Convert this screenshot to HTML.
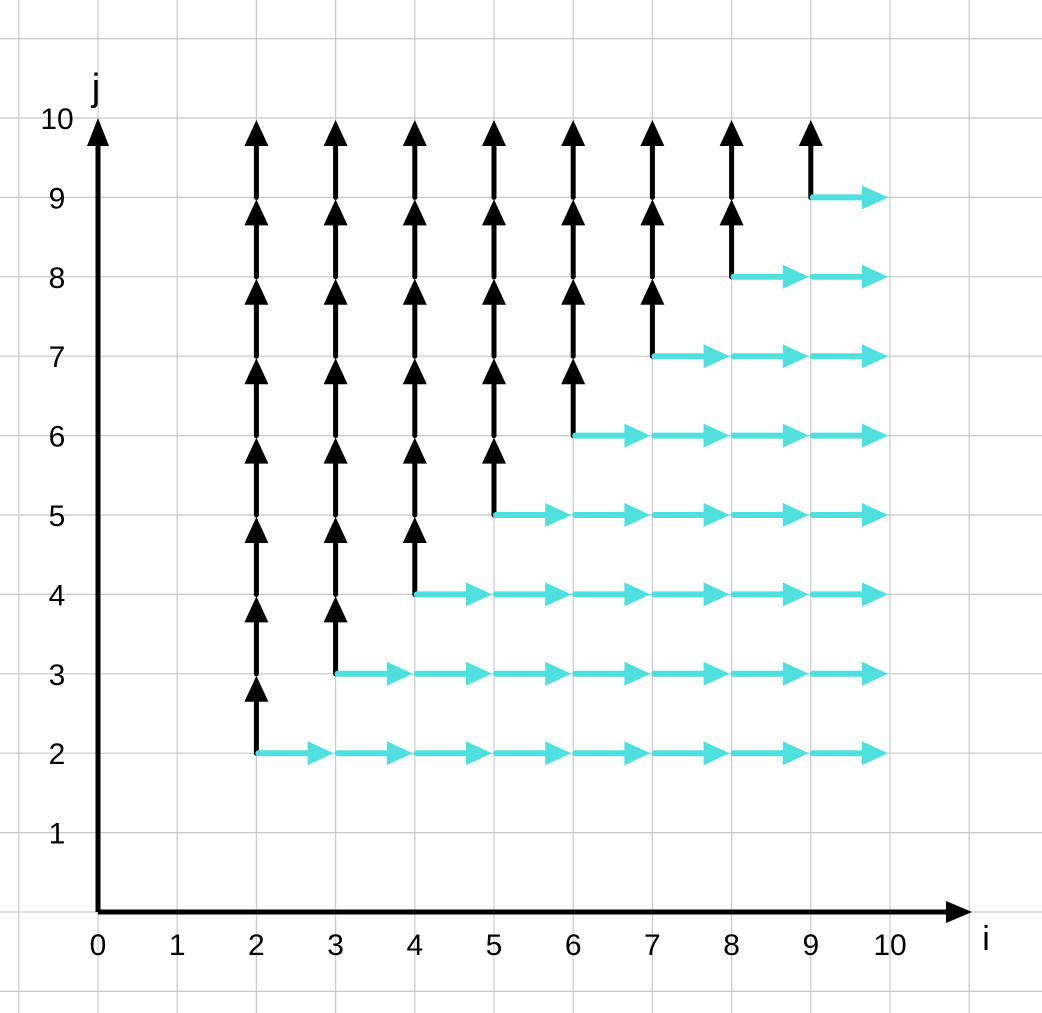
<!DOCTYPE html>
<html><head><meta charset="utf-8"><style>
html,body{margin:0;padding:0;background:#fff;}
svg{display:block;}
text{font-family:"Liberation Sans",sans-serif;}
</style></head><body>
<svg id="chart" width="1042" height="1013" viewBox="0 0 1042 1013">
<g id="grid"></g>
<g id="arrows"></g>
<g id="axes"></g>
</svg>
<script>
// Data
const xTicks = ["0","1","2","3","4","5","6","7","8","9","10"];
const yTicks = ["1","2","3","4","5","6","7","8","9","10"];
const columns = [2,3,4,5,6,7,8,9];      // black arrow columns
const colStart = [2,3,4,5,6,7,8,9];     // black arrows begin at j = start, go up to 10
const rows = [2,3,4,5,6,7,8,9];         // cyan arrow rows
const rowStart = [2,3,4,5,6,7,8,9];     // cyan arrows begin at i = start, go right to 10
const maxVal = 10;

const X0 = 98, Y0 = 912, UX = 79.2, UY = 79.4;
const sx = v => X0 + v * UX;
const sy = v => Y0 - v * UY;
const NS = "http://www.w3.org/2000/svg";
function mk(tag, attrs, parent){ const e=document.createElementNS(NS,tag); for(const k in attrs) e.setAttribute(k,attrs[k]); parent.appendChild(e); return e; }

const grid = document.getElementById('grid');
for(let k=-1;k<=12;k++){
  const l = mk('line',{x1:sx(k),x2:sx(k),y1:0,y2:1013,stroke:'#c8c8c8','stroke-width':1.2},grid);
  
  
}
for(let k=-1;k<=11;k++){
  const l = mk('line',{x1:0,x2:1042,y1:sy(k),y2:sy(k),stroke:'#c8c8c8','stroke-width':1.2},grid);
  
  
}

const arrows = document.getElementById('arrows');
function arrow(x1,y1,x2,y2,color,w,name){
  const g = mk('g',{},arrows);
  
  
  const dx=x2-x1, dy=y2-y1, L=Math.hypot(dx,dy), ux=dx/L, uy=dy/L;
  const hl=26, hw=12;
  const bx=x2-ux*hl, by=y2-uy*hl;
  mk('line',{x1:x1,y1:y1,x2:bx+ux*2,y2:by+uy*2,stroke:color,'stroke-width':w,'stroke-linecap':'round'},g);
  mk('polygon',{points:`${x2},${y2} ${bx-uy*hw},${by+ux*hw} ${bx+uy*hw},${by-ux*hw}`,fill:color},g);
}
columns.forEach((c,idx)=>{
  for(let j=colStart[idx]; j<maxVal; j++){
    arrow(sx(c), sy(j), sx(c), sy(j+1)+2, '#000', 5, 'up-arrow-'+c+'-'+j);
  }
});
rows.forEach((r,idx)=>{
  for(let i=rowStart[idx]; i<maxVal; i++){
    arrow(sx(i)+2, sy(r), sx(i+1)-2, sy(r), '#4fdfdf', 6, 'right-arrow-'+i+'-'+r);
  }
});

const axes = document.getElementById('axes');
const xa = mk('g',{},axes);


mk('line',{x1:X0,y1:Y0,x2:950,y2:Y0,stroke:'#000','stroke-width':5},xa);
mk('polygon',{points:`972,${Y0} 946,${Y0-11} 946,${Y0+11}`,fill:'#000'},xa);
const ya = mk('g',{},axes);


mk('line',{x1:X0,y1:Y0,x2:X0,y2:140,stroke:'#000','stroke-width':5},ya);
mk('polygon',{points:`${X0},118 ${X0-11},146 ${X0+11},146`,fill:'#000'},ya);

xTicks.forEach((t,k)=>{
  const e = mk('text',{x:sx(k),y:955,'font-size':30,'text-anchor':'middle'},axes);
  e.textContent=t;
  
  
});
yTicks.forEach((t,k)=>{
  const e = mk('text',{x:57,y:sy(k+1)+11,'font-size':30,'text-anchor':'middle'},axes);
  e.textContent=t;
  
  
});
const xl = mk('text',{x:986,y:950,'font-size':34,'text-anchor':'middle'},axes);
xl.textContent='i';


const yl = mk('text',{x:96,y:100,'font-size':38,'text-anchor':'middle'},axes);
yl.textContent='j';


</script>
</body></html>
